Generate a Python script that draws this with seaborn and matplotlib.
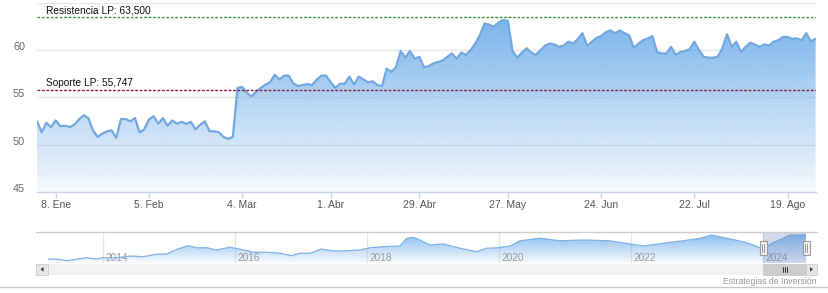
import numpy as np
import pandas as pd
import matplotlib
matplotlib.use("Agg")
import matplotlib.pyplot as plt
import matplotlib.transforms as mtransforms
from matplotlib.patches import Rectangle, Polygon
from matplotlib.lines import Line2D
import seaborn as sns

# ---------------- data ----------------
precio_2024 = [
    52.45, 51.3, 52.3, 51.85, 52.55, 51.95, 52.0, 51.85, 52.1, 52.66, 53.1, 52.8, 51.5, 50.8,
    51.15, 51.4, 51.5, 50.7, 52.7, 52.7, 52.45, 52.8, 51.3, 51.6, 52.66, 53.0, 52.2, 52.8,
    52.0, 52.55, 52.2, 52.4, 52.2, 52.4, 51.6, 52.1, 52.45, 51.4, 51.4, 51.3, 50.8, 50.6,
    50.8, 56.0, 56.1, 55.5, 55.1, 55.6, 56.0, 56.35, 56.6, 57.4, 56.9, 57.3, 57.3, 56.45,
    56.2, 56.3, 56.4, 56.3, 56.9, 57.3, 57.3, 56.6, 56.0, 56.45, 56.45, 57.2, 56.35, 57.2,
    56.9, 56.6, 56.7, 56.3, 56.2, 58.05, 57.7, 58.2, 59.9, 59.2, 59.9, 59.1, 59.3, 58.2,
    58.3, 58.6, 58.75, 58.9, 59.3, 59.65, 59.1, 59.75, 59.5, 60.0, 60.7, 61.6, 62.85, 62.7,
    62.5, 62.95, 63.2, 63.1, 59.9, 59.2, 59.75, 60.2, 59.75, 59.5, 60.0, 60.5, 60.7, 60.6,
    60.35, 60.5, 60.9, 60.7, 61.2, 61.8, 60.45, 60.9, 61.3, 61.5, 61.9, 62.1, 61.8, 62.1,
    61.8, 61.6, 60.25, 60.7, 61.05, 61.25, 61.5, 59.8, 59.65, 59.65, 60.35, 59.5, 59.8, 59.9,
    60.1, 60.9, 60.0, 59.3, 59.2, 59.2, 59.3, 60.2, 61.7, 60.35, 60.9, 59.8, 60.35, 60.8,
    60.6, 60.35, 60.6, 60.5, 60.9, 61.05, 61.4, 61.4, 61.2, 61.25, 61.05, 61.8, 60.95, 61.2,
]
festivos = ["2024-03-29", "2024-04-01", "2024-05-01"]
tick_fechas = ["2024-01-08", "2024-02-05", "2024-03-04", "2024-04-01", "2024-04-29",
               "2024-05-27", "2024-06-24", "2024-07-22", "2024-08-19"]
tick_etiquetas = ["8. Ene", "5. Feb", "4. Mar", "1. Abr", "29. Abr",
                  "27. May", "24. Jun", "22. Jul", "19. Ago"]
y_ticks = [45, 50, 55, 60, 65]
y_etiquetas = ["45", "50", "55", "60", ""]
resistencia = 63.5
soporte = 55.747

nav_anio = [2013.17, 2013.32, 2013.45, 2013.60, 2013.75, 2013.90, 2014.00, 2014.21, 2014.41, 2014.61,
            2014.81, 2014.97, 2015.12, 2015.29, 2015.42, 2015.57, 2015.72, 2015.92, 2016.08, 2016.28,
            2016.48, 2016.68, 2016.86, 2016.98, 2017.14, 2017.31, 2017.49, 2017.69, 2017.89, 2018.05,
            2018.25, 2018.50, 2018.60, 2018.70, 2018.80, 2018.95, 2019.16, 2019.41, 2019.66, 2019.81,
            2019.99, 2020.17, 2020.32, 2020.62, 2020.92, 2021.28, 2021.68, 2021.98, 2022.19, 2022.49,
            2022.79, 2023.05, 2023.22, 2023.45, 2023.70, 2023.85, 2024.00, 2024.15, 2024.31, 2024.41,
            2024.65]
nav_valor = [43.2, 43.0, 41.8, 43.0, 44.2, 43.2, 44.2, 44.2, 45.6, 45.0,
             47.0, 47.2, 51.0, 53.8, 52.2, 52.2, 50.4, 52.6, 51.0, 48.6,
             48.6, 47.8, 45.8, 47.8, 47.8, 51.2, 49.6, 49.8, 50.4, 52.2,
             53.0, 53.6, 59.8, 60.6, 58.4, 54.4, 55.2, 51.8, 49.0, 51.8,
             52.2, 53.6, 57.8, 59.8, 57.8, 58.4, 57.8, 55.2, 53.6, 55.8,
             57.8, 59.8, 62.4, 59.8, 57.0, 54.4, 51.0, 56.2, 59.8, 62.4,
             62.4]
nav_anios_etiqueta = [2014, 2016, 2018, 2020, 2022, 2024]

# ---------------- setup ----------------
W, H = 829, 293
sns.set_style("white")
plt.rcParams["font.family"] = ["Liberation Sans", "DejaVu Sans"]
fig = plt.figure(figsize=(W / 100, H / 100), dpi=100)


def fx(px):
    return px / W


def fy(py):
    return 1 - py / H


def fig_rect(x0, y0, x1, y1, **kw):
    r = Rectangle((fx(x0), fy(y1)), fx(x1) - fx(x0), fy(y0) - fy(y1),
                  transform=fig.transFigure, **kw)
    fig.patches.append(r)
    return r


def fig_line(xs, ys, **kw):
    ln = Line2D([fx(v) for v in xs], [fy(v) for v in ys], transform=fig.transFigure, **kw)
    fig.lines.append(ln)
    return ln


fechas = pd.bdate_range("2024-01-02", periods=len(precio_2024), freq="C", holidays=festivos)
df = pd.DataFrame({"idx": np.arange(len(precio_2024)), "fecha": fechas, "precio": precio_2024})

blue = np.array([124, 181, 236]) / 255.0


def gradient_fill(ax, x, y, base, x0, x1, a_lo, a_hi):
    poly = ax.fill_between(x, y, base, color="none", lw=0)
    n = 256
    grad = np.zeros((n, 1, 4))
    grad[:, 0, :3] = blue
    grad[:, 0, 3] = np.linspace(a_lo, a_hi, n)
    img = ax.imshow(grad, extent=[x0, x1, base, max(y)], origin="lower",
                    aspect="auto", zorder=1, interpolation="bilinear")
    img.set_clip_path(poly.get_paths()[0], transform=ax.transData)


# ---------------- main chart ----------------
ax = fig.add_axes([fx(37), fy(191.7), fx(816) - fx(37), fy(3) - fy(191.7)])
n = len(precio_2024)
xmin, xmax = -0.01, n - 1 + 0.09
gradient_fill(ax, df["idx"], df["precio"], 45, xmin, xmax, 0.08, 1.0)
sns.lineplot(data=df, x="idx", y="precio", ax=ax, color="#72a8e0", lw=1.6, zorder=3)
ax.set_xlim(xmin, xmax)
ax.set_ylim(45, 65)

ax.set_yticks(y_ticks)
ax.set_yticklabels(y_etiquetas)
ax.grid(axis="y", color="#e6e6e6", lw=1)
ax.grid(axis="x", visible=False)
ax.set_axisbelow(True)
for s in ["top", "right", "left"]:
    ax.spines[s].set_visible(False)
ax.spines["bottom"].set_color("#ccd6eb")
ax.spines["bottom"].set_linewidth(1)
ax.tick_params(axis="y", length=0, pad=8.5, labelsize=7.8, labelcolor="#666666")
off = mtransforms.ScaledTranslation(0, 4 / 100, fig.dpi_scale_trans)
for lab in ax.get_yticklabels():
    lab.set_transform(lab.get_transform() + off)

pos = fechas.searchsorted(pd.to_datetime(tick_fechas))
ax.set_xticks(pos)
ax.set_xticklabels(tick_etiquetas)
ax.tick_params(axis="x", length=4, width=1, color="#ccd6eb", pad=2,
               labelsize=7.5, labelcolor="#555555", bottom=True)
ax.set_xlabel("")
ax.set_ylabel("")

ax.axhline(resistencia, color="#3f8f3f", lw=1, ls=(0, (2, 1.2)), zorder=4)
ax.axhline(soporte, color="#8e1b3a", lw=1, ls=(0, (2, 1.2)), zorder=4)
ax.annotate("Resistencia LP: 63,500", xy=(0, resistencia), xycoords=("axes fraction", "data"),
            xytext=(9, 2), textcoords="offset pixels", fontsize=7.3, color="#111111",
            ha="left", va="bottom", zorder=5)
ax.annotate("Soporte LP: 55,747", xy=(0, soporte), xycoords=("axes fraction", "data"),
            xytext=(9, 2), textcoords="offset pixels", fontsize=7.3, color="#111111",
            ha="left", va="bottom", zorder=5)

# ---------------- navigator ----------------
axn = fig.add_axes([fx(36), fy(263), fx(817) - fx(36), fy(232) - fy(263)])
nx0 = 2014 + (36 - 103) / 66
nx1 = 2014 + (817 - 103) / 66
dfn = pd.DataFrame({"anio": nav_anio, "valor": nav_valor})
gradient_fill(axn, dfn["anio"], dfn["valor"], 40, nx0, nx1, 0.05, 0.9)
sns.lineplot(data=dfn, x="anio", y="valor", ax=axn, color="#7fb2e5", lw=0.9, zorder=3)
axn.set_xlim(nx0, nx1)
axn.set_ylim(40, 64.8)
axn.set_xticks([])
axn.set_yticks([])
axn.set_xlabel("")
axn.set_ylabel("")
for s in axn.spines.values():
    s.set_visible(False)
for yr in nav_anios_etiqueta:
    axn.axvline(yr, color="#e6e6e6", lw=1, zorder=0)
    axn.text(yr + 0.03, 0.17, str(yr), transform=axn.get_xaxis_transform(),
             fontsize=7.3, color="#999999", ha="left", va="center", zorder=2)

sel0 = fechas[0].year + (fechas[0].dayofyear - 1) / 366
sel1 = fechas[-1].year + (fechas[-1].dayofyear - 1) / 366
axn.axvspan(sel0, sel1, color=(102 / 255, 133 / 255, 194 / 255, 0.3), lw=0, zorder=4)

fig_line([36, 817], [232, 232], color="#cccccc", lw=1)

# handles
hx0 = 36 + (sel0 - nx0) / (nx1 - nx0) * (817 - 36)
hx1 = 36 + (sel1 - nx0) / (nx1 - nx0) * (817 - 36)
for hx in (hx0, hx1):
    fig_rect(hx - 3.5, 241, hx + 3.5, 255, facecolor="#f2f2f2", edgecolor="#999999", lw=0.8, zorder=6)
    fig_line([hx - 1, hx - 1], [244, 252], color="#999999", lw=0.7, zorder=7)
    fig_line([hx + 1, hx + 1], [244, 252], color="#999999", lw=0.7, zorder=7)

# scrollbar
fig_rect(36, 263.5, 817, 275, facecolor="#f2f2f2", edgecolor="none", zorder=2)
fig_rect(36, 263.5, 48, 275, facecolor="#e6e6e6", edgecolor="#cccccc", lw=0.6, zorder=3)
fig_rect(806, 263.5, 817, 275, facecolor="#e6e6e6", edgecolor="#cccccc", lw=0.6, zorder=3)
fig_rect(hx0, 263.5, hx1, 275, facecolor="#cccccc", edgecolor="#cccccc", lw=0.6, zorder=3)
fig.patches.append(Polygon([(fx(40.5), fy(269.3)), (fx(43.5), fy(267)), (fx(43.5), fy(271.6))],
                           closed=True, transform=fig.transFigure, facecolor="#333333",
                           edgecolor="none", zorder=4))
fig.patches.append(Polygon([(fx(813), fy(269.3)), (fx(810), fy(267)), (fx(810), fy(271.6))],
                           closed=True, transform=fig.transFigure, facecolor="#333333",
                           edgecolor="none", zorder=4))
gc = (hx0 + hx1) / 2
for d in (-2, 0, 2):
    fig_line([gc + d, gc + d], [266.5, 271.5], color="#333333", lw=0.7, zorder=5)

# credits and bottom border
fig.text(fx(817), fy(281.5), "Estrategias de Inversión", ha="right", va="center",
         fontsize=6.2, color="#999999")
fig_line([0, 829], [287, 287], color="#c8c8c8", lw=1)

fig.savefig("out.png", dpi=100)
